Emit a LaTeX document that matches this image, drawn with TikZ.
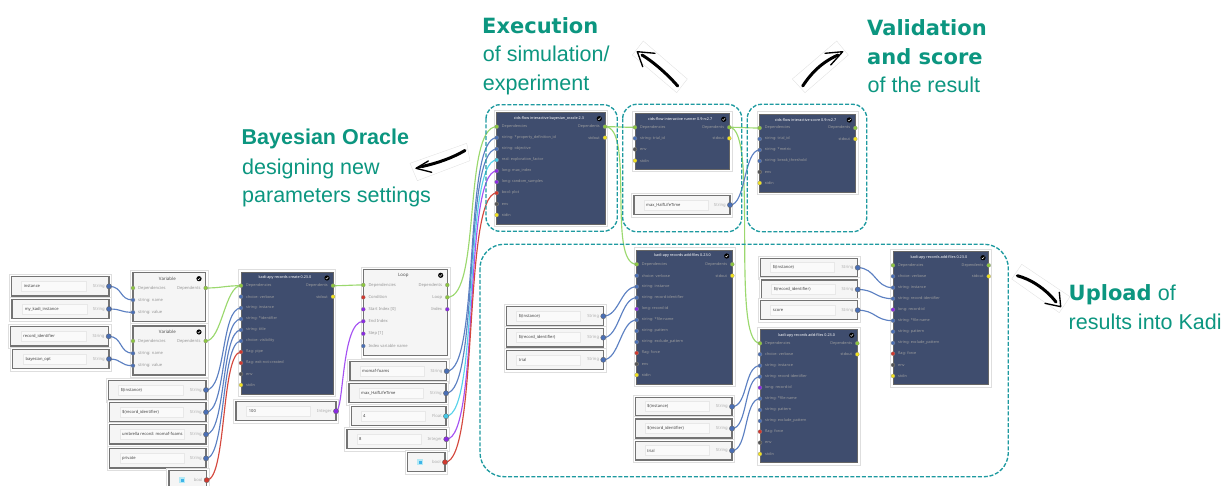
\documentclass[tikz,border=0pt]{standalone}
\usepackage{fontspec}
\setmainfont{Liberation Sans}
\newfontfamily\uif{Noto Sans}
\newfontfamily\headf{DejaVu Sans}
\usetikzlibrary{fit,backgrounds}
\definecolor{teal1}{HTML}{0C9680}
\definecolor{dashc}{HTML}{1E9AA0}
\definecolor{darkb}{HTML}{3F4D6E}
\definecolor{pg}{HTML}{8CC63F}
\definecolor{pb}{HTML}{4A6FB5}
\definecolor{pp}{HTML}{8A2BE2}
\definecolor{pr}{HTML}{D0392F}
\definecolor{pk}{HTML}{555555}
\definecolor{py}{HTML}{F2E21E}
\definecolor{pc}{HTML}{45C8E6}
\definecolor{wg}{HTML}{9BD86E}
\definecolor{wb}{HTML}{5C80C2}
\definecolor{wp}{HTML}{A552F2}
\definecolor{wr}{HTML}{D4483E}
\definecolor{wc}{HTML}{58D2EA}
\pgfdeclarelayer{cards}
\pgfdeclarelayer{wires}
\pgfsetlayers{cards,wires,main}
\tikzset{
  portdot/.style={circle,inner sep=0,minimum size=4,draw=black!45,line width=.2},
  inportdot/.style={circle,inner sep=0,minimum size=5.2,draw=black!60,line width=.35},
  cardbg/.style={draw=black!13,line width=.5,fill=white,inner sep=2.5},
  darkbox/.style={draw=black!60,line width=.5,fill=darkb,inner sep=0},
  lightbox/.style={draw=black!55,line width=1.15,fill=black!4,inner sep=0},
  fieldbox/.style={draw=black!9,line width=.5,fill=white!98!black,inner sep=0},
  darklab/.style={font=\uif\fontsize{3.8}{4.5}\selectfont,text=black!38,inner sep=0},
  lightlab/.style={font=\uif\fontsize{4.1}{4.5}\selectfont,text=black!42,inner sep=0},
  darktitle/.style={font=\uif\bfseries\fontsize{3.75}{4.5}\selectfont,text=white,inner sep=0},
  lighttitle/.style={font=\uif\bfseries\fontsize{4.4}{5}\selectfont,text=black!70,inner sep=0},
  valtext/.style={font=\uif\fontsize{4.1}{5}\selectfont,text=black!75,inner sep=0},
  typetext/.style={font=\uif\fontsize{4.2}{5}\selectfont,text=black!32,inner sep=0},
  checkicon/.style={circle,fill=black,inner sep=0,minimum size=5.2},
  wire/.style={line width=1.15},
  group/.style={draw=dashc,line width=1.35,dash pattern=on 4pt off 1.8pt},
  headb/.style={font=\headf\bfseries\fontsize{21}{24}\selectfont,text=teal1,inner sep=0,anchor=base west},
  heads/.style={font=\bfseries\fontsize{21.5}{26}\selectfont,text=teal1,inner sep=0,anchor=base west},
  headr/.style={font=\fontsize{21.5}{26}\selectfont,text=teal1,inner sep=0,anchor=base west},
  arrowbg/.style={draw=black!12,line width=.35,fill=white},
  arrowtail/.style={line width=3,line cap=round,draw=black},
  arrowhead/.style={line width=1.35,line cap=round,line join=round,draw=black},
}
% name x1 y1 x2 y2 title, check x
\newcommand\darkpanel[7]{%
  \begin{pgfonlayer}{cards}
    \node[cardbg,fit={(#2,#3)(#4,#5)}] (#1card) {};
    \node[darkbox,fit={(#2,#3)(#4,#5)}] (#1) {};
  \end{pgfonlayer}
  \node[darktitle] (#1title) at ({(#2+#4)/2-2},#3+6) {#6};
  \node[checkicon] (#1chk) at (#7,#3+6) {};
  \draw[white,line width=.4] (#7-1.3,#3+6.1) -- (#7-.4,#3+7) -- (#7+1.4,#3+5);
}
\newcommand\lightpanel[7]{%
  \begin{pgfonlayer}{cards}
    \node[cardbg,fit={(#2,#3)(#4,#5)}] (#1card) {};
    \node[lightbox,fit={(#2,#3)(#4,#5)}] (#1) {};
  \end{pgfonlayer}
  \node[lighttitle] (#1title) at ({(#2+#4)/2-2},#3+6) {#6};
  \node[checkicon] (#1chk) at (#7,#3+6) {};
  \draw[white,line width=.4] (#7-1.3,#3+6.1) -- (#7-.4,#3+7) -- (#7+1.4,#3+5);
}
% name, x, label style, list y/col/text
\newcommand\lports[4]{\foreach \yy/\cc/\lt [count=\ii] in {#4} {%
  \node[portdot,fill=\cc] (#1l\ii) at (#2,\yy) {};
  \node[#3,anchor=west] (#1lt\ii) at (#2+5,\yy) {\lt};}}
\newcommand\rports[4]{\foreach \yy/\cc/\lt [count=\ii] in {#4} {%
  \node[portdot,fill=\cc] (#1r\ii) at (#2,\yy) {};
  \node[#3,anchor=east] (#1rt\ii) at (#2-5,\yy) {\lt};}}
% name x1 y1 x2 y2 fx1 fx2 value type col
\newcommand\inp[9]{\inpb{#1}{#2}{#3}{#4}{#5}{#6}{#7}{#8}{#9}}
\newcommand\inpb[9]{\def\inpA{#1}\def\inpB{#2}\def\inpC{#3}\def\inpD{#4}\def\inpE{#5}\def\inpF{#6}\def\inpG{#7}\def\inpH{#8}\def\inpI{#9}\inpc}
\newcommand\inpc[1]{%
  \begin{pgfonlayer}{cards}
    \node[cardbg,fit={(\inpB,\inpC)(\inpD,\inpE)}] (\inpA card) {};
    \node[lightbox,fit={(\inpB,\inpC)(\inpD,\inpE)}] (\inpA box) {};
    \node[fieldbox,fit={(\inpF,{(\inpC+\inpE)/2-5})(\inpG,{(\inpC+\inpE)/2+5})}] (\inpA field) {};
  \end{pgfonlayer}
  \node[valtext,anchor=west] (\inpA val) at (\inpF+2,{(\inpC+\inpE)/2}) {\inpH};
  \node[typetext,anchor=east] (\inpA type) at (\inpD-4,{(\inpC+\inpE)/2}) {\inpI};
  \node[inportdot,fill=#1] (\inpA) at (\inpD,{(\inpC+\inpE)/2}) {};
}
% name x1 y1 x2 y2 checkboxx
\newcommand\boolbox[6]{%
  \begin{pgfonlayer}{cards}
    \node[cardbg,fit={(#2,#3)(#4,#5)}] (#1card) {};
    \node[lightbox,fit={(#2,#3)(#4,#5)}] (#1box) {};
  \end{pgfonlayer}
  \node[fill=pc!40,inner sep=0,minimum size=5.5] (#1halo) at (#6,{(#3+#5)/2}) {};
  \node[fill=pc!90!blue,inner sep=0,minimum size=3] (#1chk) at (#6,{(#3+#5)/2}) {};
  \node[typetext,anchor=east] (#1type) at (#4-4,{(#3+#5)/2}) {bool};
  \node[inportdot,fill=pr] (#1) at (#4,{(#3+#5)/2}) {};
}
\newcommand\wireto[5]{\begin{pgfonlayer}{wires}\draw[wire,draw=#1] (#2.center) .. controls +(#4,0) and +(-#5,0) .. (#3.center);\end{pgfonlayer}}
\begin{document}
\begin{tikzpicture}[x=1pt,y=-1pt]
\useasboundingbox (0,0) rectangle (1223,486);

% --- left inputs
\inp{iA}{11.3}{276.7}{109}{296}{21.7}{86.7}{instance}{String}{pb}
\inp{iB}{12}{299.3}{109}{318.7}{22.7}{87}{my\_kadi\_instance}{String}{pb}
\inp{iC}{10.7}{326.7}{108.7}{346}{21}{86.7}{record\_identifier}{String}{pb}
\inp{iD}{12.3}{349.3}{109}{368.7}{23.3}{86.7}{bayesian\_opt}{String}{pb}

% --- variables
\lightpanel{varA}{133}{272.7}{205.7}{321.7}{Variable}{199}
\lports{varA}{133}{lightlab}{288/pg/Dependencies,300/pb/string: name,312.3/pb/string: value}
\rports{varA}{205.7}{lightlab}{288/pg/Dependents}
\lightpanel{varB}{133}{326}{205.7}{375}{Variable}{199}
\lports{varB}{133}{lightlab}{341/pg/Dependencies,353.3/pb/string: name,365.7/pb/string: value}
\rports{varB}{205.7}{lightlab}{341/pg/Dependents}

\inp{iE}{108.7}{380.7}{206}{399.3}{118.7}{183}{\$(instance)}{String}{pb}
\inp{iF}{109.3}{402.7}{206}{421.7}{120}{183.7}{\$(record\_identifier)}{String}{pb}
\inp{iG}{109.3}{424.7}{206}{444}{120}{184}{umbrella record: momaf-foams}{String}{pb}
\inp{iH}{109.3}{448.7}{206}{468}{120}{184}{private}{String}{pb}
\boolbox{iI}{169}{470.7}{206.7}{489.5}{182}

% --- records create
\darkpanel{create}{241}{272}{333}{394}{kadi-apy records create 0.23.0}{327}
\lports{create}{241}{darklab}{285.7/pg/Dependencies,296.7/pb/choice: verbose,308/pb/string: instance,319/pb/string: *identifier,330/pb/string: title,341/pb/choice: visibility,352/pr/flag: pipe,363/pr/flag: exit-not-created,374/pk/env,385/py/stdin}
\rports{create}{333}{darklab}{285.7/pg/Dependents,296.7/py/stdout}
\inp{iJ}{236}{401.7}{336}{420.7}{246.7}{310}{100}{Integer}{pp}

% --- loop
\lightpanel{loop}{363.3}{269.3}{447.3}{355.7}{Loop}{440.7}
\lports{loop}{363.3}{lightlab}{285/pg/Dependencies,297.3/pr/Condition,309.3/pp/{Start Index [0]},321.3/pp/End Index,333.7/pp/{Step [1]},346/pb/Index variable name}
\rports{loop}{447.3}{lightlab}{285/pg/Dependents,297.3/pg/Loop,309.3/pp/Index}
\inp{iK}{350}{361.7}{446.7}{380.7}{360}{424.7}{momaf-foams}{String}{pb}
\inp{iL}{349}{383.7}{446}{402.7}{359}{423.7}{max\_HalfLifeTime}{String}{pb}
\inp{iM}{351.3}{406.7}{446}{425.7}{361}{425}{4}{Float}{pc}
\inp{iN}{347}{429.7}{446.3}{448.7}{357}{421}{8}{Integer}{pp}
\boolbox{iO}{407.3}{452.7}{445}{471.7}{420}

% --- oracle
\darkpanel{oracle}{496.7}{112.7}{605}{224}{cids-flow interactive bayesian\_oracle 2.3}{599.3}
\lports{oracle}{496.7}{darklab}{126.7/pg/Dependencies,137.7/pb/string: *property\_definition\_id,149/pb/string: objective,160/pc/real: exploration\_factor,171/pp/long: max\_index,182/pp/long: random\_samples,193/pr/bool: plot,204/pk/env,215/py/stdin}
\rports{oracle}{605}{darklab}{126.7/pg/Dependents,137.7/py/stdout}

% --- runner
\darkpanel{runner}{635}{113.3}{729.3}{169}{cids-flow interactive runner 0.9-rc2.7}{723.7}
\lports{runner}{635}{darklab}{127.3/pg/Dependencies,138.3/pb/string: trial\_id,149.3/pk/env,160.7/py/stdin}
\rports{runner}{729.3}{darklab}{127.3/pg/Dependents,138.3/py/stdout}
\inp{iP}{634}{195.3}{730}{214.7}{644}{708.7}{max\_HalfLifeTime}{String}{pb}

% --- score
\darkpanel{score}{759.7}{114}{855.3}{192}{cids-flow interactive score 0.9-rc2.7}{849.3}
\lports{score}{759.7}{darklab}{128/pg/Dependencies,139/pb/string: trial\_id,150/pb/string: *metric,161/pb/string: break\_threshold,172/pk/env,183/py/stdin}
\rports{score}{855.3}{darklab}{128/pg/Dependents,139/py/stdout}

% --- uploads
\darkpanel{addA}{636.7}{250}{732.3}{384}{kadi-apy records add-files 0.23.0}{726.7}
\lports{addA}{636.7}{darklab}{264.3/pg/Dependencies,275.7/pb/choice: verbose,286.7/pb/string: instance,297.7/pb/string: record-identifier,309/pp/long: record-id,320/pb/string: *file-name,331/pb/string: pattern,342/pb/string: exclude\_pattern,353/pr/flag: force,364/pk/env,375/py/stdin}
\rports{addA}{732.3}{darklab}{264.3/pg/Dependents,275.7/py/stdout}
\inp{iQ}{506.3}{306.7}{603.3}{325.7}{516.7}{580.7}{\$(instance)}{String}{pb}
\inp{iR}{506.3}{328.3}{603.3}{347}{516.7}{580.7}{\$(record\_identifier)}{String}{pb}
\inp{iS}{506.3}{350.3}{603.3}{369.3}{516.7}{580.7}{trial}{String}{pb}
\inp{iT}{635.3}{397.3}{732}{416}{645}{709.7}{\$(instance)}{String}{pb}
\inp{iU}{635.3}{419}{732}{438}{645}{709.7}{\$(record\_identifier)}{String}{pb}
\inp{iV}{635.3}{441.3}{732}{460}{645}{709.7}{trial}{String}{pb}

\darkpanel{addB}{760}{329.3}{857.3}{462.3}{kadi-apy records add-files 0.23.0}{851.7}
\lports{addB}{760}{darklab}{343.3/pg/Dependencies,354.3/pb/choice: verbose,365.7/pb/string: instance,376.7/pb/string: record-identifier,387.7/pp/long: record-id,398.7/pb/string: *file-name,410/pb/string: pattern,421/pb/string: exclude\_pattern,431.7/pr/flag: force,442.7/pk/env,454/py/stdin}
\rports{addB}{857.3}{darklab}{343.3/pg/Dependents,354.3/py/stdout}

\inp{iW}{760.7}{258.3}{857.7}{277}{770.7}{834.7}{\$(instance)}{String}{pb}
\inp{iX}{761.7}{280}{857.7}{299}{771.7}{835}{\$(record\_identifier)}{String}{pb}
\inp{iY}{760.7}{300.7}{857.7}{319.7}{770.7}{835}{score}{String}{pb}

\darkpanel{addC}{893}{251.7}{988.7}{384.7}{kadi-apy records add-files 0.23.0}{983}
\lports{addC}{893}{darklab}{265.3/pg/Dependencies,276.3/pb/choice: verbose,287.7/pb/string: instance,298.7/pb/string: record-identifier,309.7/pp/long: record-id,320.7/pb/string: *file-name,331.7/pb/string: pattern,343/pb/string: exclude\_pattern,353.7/pr/flag: force,365/pk/env,376/py/stdin}
\rports{addC}{988.7}{darklab}{265.3/pg/Dependents,276.3/py/stdout}

% --- wires
\wireto{wb}{iA}{varAl2}{14}{14}
\wireto{wb}{iB}{varAl3}{14}{14}
\wireto{wb}{iC}{varBl2}{14}{14}
\wireto{wb}{iD}{varBl3}{14}{14}
\wireto{wg}{varAr1}{createl1}{16}{16}
\wireto{wg}{varBr1}{createl1}{16}{16}
\wireto{wb}{iE}{createl3}{20}{20}
\wireto{wb}{iF}{createl4}{20}{20}
\wireto{wb}{iG}{createl5}{20}{20}
\wireto{wb}{iH}{createl6}{20}{20}
\wireto{wr}{iI}{createl7}{20}{20}
\wireto{wg}{creater1}{loopl1}{14}{14}
\wireto{wp}{iJ}{loopl4}{8}{22}
\wireto{wg}{loopr2}{oraclel1}{34}{34}
\wireto{wb}{iK}{oraclel2}{34}{34}
\wireto{wb}{iL}{oraclel3}{34}{34}
\wireto{wc}{iM}{oraclel4}{34}{34}
\wireto{wp}{iN}{oraclel5}{34}{34}
\wireto{wr}{iO}{oraclel7}{34}{34}
\wireto{wg}{oracler1}{runnerl1}{14}{14}
\wireto{wg}{oracler1}{addAl1}{30}{30}
\wireto{wg}{runnerr1}{scorel1}{14}{14}
\wireto{wg}{runnerr1}{addBl1}{30}{30}
\wireto{wb}{iP}{scorel3}{16}{16}
\wireto{wb}{iQ}{addAl3}{16}{16}
\wireto{wb}{iR}{addAl4}{16}{16}
\wireto{wb}{iS}{addAl6}{16}{16}
\wireto{wb}{iT}{addBl3}{16}{16}
\wireto{wb}{iU}{addBl4}{16}{16}
\wireto{wb}{iV}{addBl6}{16}{16}
\wireto{wb}{iW}{addCl3}{18}{18}
\wireto{wb}{iX}{addCl4}{18}{18}
\wireto{wb}{iY}{addCl6}{18}{18}

% --- dashed groups
\draw[group,rounded corners=14] (486,104.7) rectangle (617.3,231.3);
\draw[group,rounded corners=14] (622.7,104.3) rectangle (741.7,231.7);
\draw[group,rounded corners=14] (747.3,104.3) rectangle (866.7,231.7);
\draw[group,rounded corners=24] (480,244.3) rectangle (1008.3,476.7);

% --- captions
\node[heads] (t1a) at (241.5,145) {Bayesian Oracle};
\node[headr] (t1b) at (242,174.3) {designing new};
\node[headr] (t1c) at (242,202.3) {parameters settings};
\node[headb] (t2a) at (482,33.3) {Execution};
\node[headr] (t2b) at (482.7,62) {of simulation/};
\node[headr] (t2c) at (482.7,90.7) {experiment};
\node[headb] (t3a) at (867,35.7) {Validation};
\node[headb] (t3b) at (867,64.3) {and score};
\node[headr] (t3c) at (867.5,92.7) {of the result};
\node[headb] (t4a) at (1068.5,300) {Upload};
\node[headr,anchor=base east] (t4b) at (1176,300) {of};
\node[headr] (t4c) at (1068.5,329) {results into Kadi};

% --- hand-drawn arrows
\draw[arrowbg] (410,163.3) -- (466.7,143.3) -- (470,160.7) -- (417.3,180.7) -- cycle;
\draw[arrowtail] (465,150.5) .. controls (452,158) and (438,163) .. (422,166.5);
\draw[arrowhead] (428.3,161) -- (416,168.3) -- (431.7,172.3);
\draw[arrowtail,line width=1.6] (425,166) -- (417,168);

\draw[arrowbg] (643.3,41) -- (687.3,79) -- (676.7,92.7) -- (632.3,55) -- cycle;
\draw[arrowtail] (677.7,86) .. controls (668,75) and (655,63) .. (642,55);
\draw[arrowhead] (655,53.3) -- (637.3,51.7) -- (642.7,66.7);

\draw[arrowbg] (836.7,41) -- (848.3,55) -- (805,92.7) -- (792.3,79) -- cycle;
\draw[arrowtail] (802.7,86) .. controls (810,75) and (820,63) .. (838,55);
\draw[arrowhead] (825,53.3) -- (842.7,51.7) -- (830.7,65);

\draw[arrowbg] (1021.7,264.3) -- (1070,296.7) -- (1059.3,312.7) -- (1011.7,279) -- cycle;
\draw[arrowtail] (1017.3,275.7) .. controls (1030,279) and (1045,288) .. (1056,302);
\draw[arrowhead] (1059.3,292.3) -- (1060.7,306.7) -- (1045,303.3);
\end{tikzpicture}
\end{document}
